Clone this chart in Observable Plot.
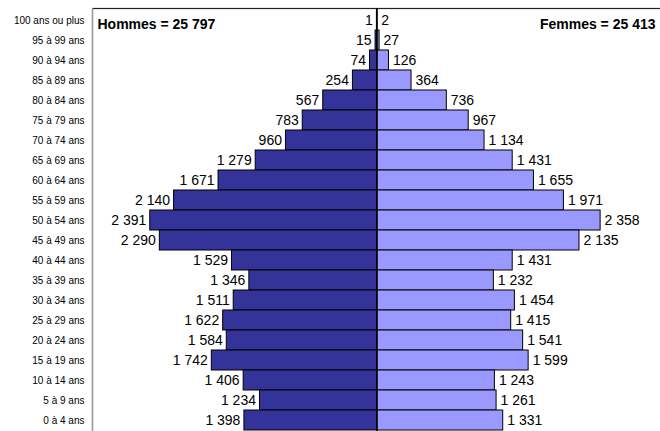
<!DOCTYPE html>
<html>
<head>
<meta charset="utf-8">
<script src="https://cdn.jsdelivr.net/npm/d3@7"></script>
<script src="https://cdn.jsdelivr.net/npm/@observablehq/plot@0.6"></script>
<style>
  html, body { margin: 0; padding: 0; background: #fff; }
</style>
</head>
<body>
<div id="chart"></div>
<script>
const ages = ["100 ans ou plus","95 à 99 ans","90 à 94 ans","85 à 89 ans","80 à 84 ans","75 à 79 ans","70 à 74 ans","65 à 69 ans","60 à 64 ans","55 à 59 ans","50 à 54 ans","45 à 49 ans","40 à 44 ans","35 à 39 ans","30 à 34 ans","25 à 29 ans","20 à 24 ans","15 à 19 ans","10 à 14 ans","5 à 9 ans","0 à 4 ans"];
const hommes = [1,15,74,254,567,783,960,1279,1671,2140,2391,2290,1529,1346,1511,1622,1584,1742,1406,1234,1398];
const femmes = [2,27,126,364,736,967,1134,1431,1655,1971,2358,2135,1431,1232,1454,1415,1541,1599,1243,1261,1331];
const xDomain = [-3000, 3000];

const fmt = n => d3.format(",")(n).replace(/,/g, " ");
const rows = ages.map((a, i) => ({age: a, h: hommes[i], f: femmes[i]}));
const totalH = "Hommes = " + fmt(d3.sum(hommes));
const totalF = "Femmes = " + fmt(d3.sum(femmes));

const font = "'Liberation Sans', Arial, sans-serif";
const chart = Plot.plot({
  width: 660,
  height: 431,
  marginTop: 8,
  marginLeft: 92,
  marginRight: -1,
  marginBottom: -1,
  style: {fontFamily: font, fontSize: "10px", background: "#fff", color: "#000"},
  x: {domain: xDomain, axis: null},
  y: {domain: ages, padding: 0, tickSize: 0, tickPadding: 8, label: null},
  marks: [
    Plot.frame({stroke: "#222", strokeWidth: 1.2}),
    Plot.ruleX([xDomain[0]], {stroke: "#999", strokeWidth: 1.2}),
    Plot.barX(rows, {y: "age", x1: 0, x2: d => -d.h, fill: "#333399", stroke: "#000", strokeWidth: 1, insetTop: 0, insetBottom: 0}),
    Plot.barX(rows, {y: "age", x1: 0, x2: d => d.f, fill: "#9999ff", stroke: "#000", strokeWidth: 1, insetTop: 0, insetBottom: 0}),
    Plot.ruleX([0], {stroke: "#000", strokeWidth: 1.6}),
    Plot.text(rows, {y: "age", x: d => -d.h, text: d => fmt(d.h), textAnchor: "end", dx: -4, fontSize: 14, fill: "#000"}),
    Plot.text(rows, {y: "age", x: d => d.f, text: d => fmt(d.f), textAnchor: "start", dx: 4, fontSize: 14, fill: "#000"}),
    Plot.text([totalH], {frameAnchor: "top-left", text: d => d, textAnchor: "start", dx: 5, dy: 11, fontSize: 14, fontWeight: "bold", fill: "#000"}),
    Plot.text([totalF], {frameAnchor: "top-right", text: d => d, textAnchor: "end", dx: -6, dy: 11, fontSize: 14, fontWeight: "bold", fill: "#000"})
  ]
});
document.getElementById("chart").appendChild(chart);
</script>
</body>
</html>
